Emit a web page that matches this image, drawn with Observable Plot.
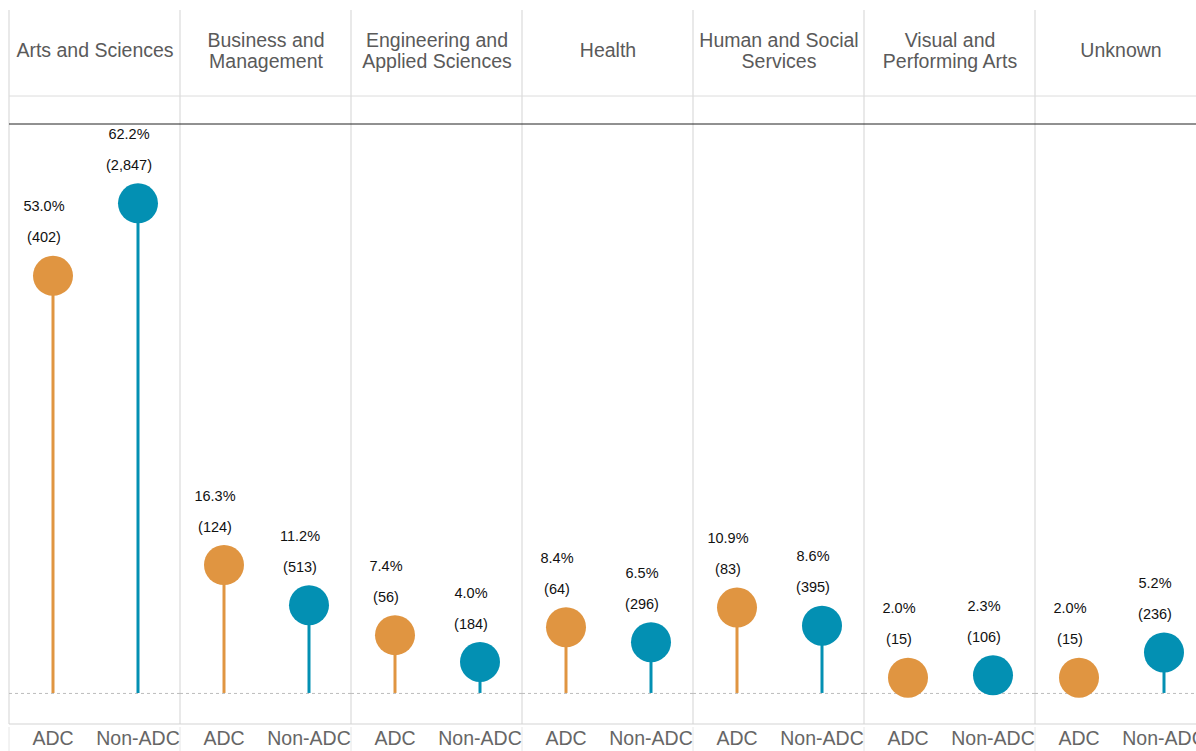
<!DOCTYPE html>
<html><head><meta charset="utf-8">
<script src="https://cdn.jsdelivr.net/npm/d3@7"></script>
<script src="https://cdn.jsdelivr.net/npm/@observablehq/plot@0.6"></script>
<style>
html,body{margin:0;padding:0;background:#fff;overflow:hidden;width:1196px;height:751px}
#chart{width:1196px;height:751px;overflow:hidden}
#chart svg{max-width:none !important;width:1208px !important;height:751px !important}
</style></head><body><div id="chart"></div>
<script>
const categories = ["Arts and Sciences","Business and Management","Engineering and Applied Sciences","Health","Human and Social Services","Visual and Performing Arts","Unknown"];
const headerLabels = ["Arts and Sciences","Business and\nManagement","Engineering and\nApplied Sciences","Health","Human and Social\nServices","Visual and\nPerforming Arts","Unknown"];
const groups = ["ADC","Non-ADC"];
const adcPct = [53.0,16.3,7.4,8.4,10.9,2.0,2.0];
const adcCount = [402,124,56,64,83,15,15];
const nonAdcPct = [62.2,11.2,4.0,6.5,8.6,2.3,5.2];
const nonAdcCount = [2847,513,184,296,395,106,236];
const colors = ["#e09541","#0390b3"];

const data = [];
categories.forEach((c,i)=>{
  data.push({category:c, group:"ADC", pct:adcPct[i], count:adcCount[i]});
  data.push({category:c, group:"Non-ADC", pct:nonAdcPct[i], count:nonAdcCount[i]});
});
const fmt = d3.format(",");
const W = 1208, H = 751;
const plot = Plot.plot({
  width: W, height: H,
  marginTop: 124, marginBottom: 27, marginLeft: 7, marginRight: 0,
  style: {fontFamily: "Arial, 'Liberation Sans', sans-serif", background:"#fff", overflow:"visible"},
  fx: {domain: categories, padding: 0, axis: null},
  x: {type: "band", domain: groups, padding: 0, axis: null},
  y: {domain: [-3.94, 72.2], range: [724, 124], axis: null},
  color: {domain: groups, range: colors},
  marks: [
    Plot.ruleY([0], {stroke:"#bdbdbd", strokeDasharray:"3,3"}),
    Plot.ruleX(data, {fx:"category", x:"group", y1:0, y2:"pct", stroke:"group", strokeWidth:3}),
    Plot.dot(data, {fx:"category", x:"group", y:"pct", r:20, fill:"group"}),
    Plot.text(data, {fx:"category", x:"group", y:"pct", text: d=>d.pct.toFixed(1)+"%", dy:-69, dx:-9, fontSize:14.5, fill:"#111"}),
    Plot.text(data, {fx:"category", x:"group", y:"pct", text: d=>"(" + fmt(d.count) + ")", dy:-38, dx:-9, fontSize:14.5, fill:"#111"}),
    Plot.text(categories, {fx: d=>d, text: (d,i)=>headerLabels[i], frameAnchor:"top", dy:-74, lineAnchor:"middle", lineHeight:1.1, fontSize:19.5, fill:"#5a5a5a"}),
    Plot.axisX({tickSize:0, tickPadding:7, fontSize:19.5, fill:"#666", label:null})
  ]
});
document.getElementById("chart").appendChild(plot);

// structural lines derived from the scales
const fx = plot.scale("fx");
const yr = plot.scale("y").range; // [bottom, top]
const svg = d3.select(plot);
const g = svg.insert("g", ":first-child");
const lefts = categories.map(c => fx.apply(c));
const yBottom = Math.max(...yr), yTop = Math.min(...yr);
lefts.forEach(x => {
  g.append("line").attr("x1", x).attr("x2", x).attr("y1", 10).attr("y2", yBottom).attr("stroke", "#d3d3d3");
  g.append("line").attr("x1", x).attr("x2", x).attr("y1", yBottom + 3).attr("y2", H).attr("stroke", "#e6e6e6");
});
g.append("line").attr("x1", lefts[0]).attr("x2", W).attr("y1", yTop - 28).attr("y2", yTop - 28).attr("stroke", "#dcdcdc");
g.append("line").attr("x1", lefts[0]).attr("x2", W).attr("y1", yBottom).attr("y2", yBottom).attr("stroke", "#d3d3d3");
svg.append("line").attr("x1", lefts[0]).attr("x2", W).attr("y1", yTop).attr("y2", yTop).attr("stroke", "#222");
</script></body></html>
